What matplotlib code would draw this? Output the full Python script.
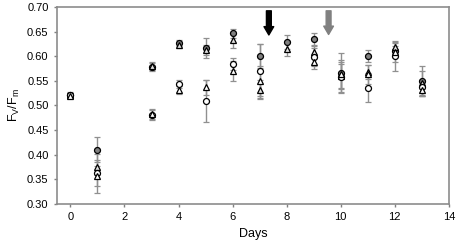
import numpy as np
import matplotlib.pyplot as plt

plt.rcParams['font.family'] = ['Liberation Sans', 'DejaVu Sans']

days = [0, 1, 3, 4, 5, 6, 7, 8, 9, 10, 11, 12, 13]

# gray filled circles
fv_a = [0.521, 0.410, 0.578, 0.626, 0.617, 0.646, 0.600, 0.629, 0.634, 0.566, 0.600, 0.610, 0.550]
err_a = [0.005, 0.025, 0.008, 0.006, 0.020, 0.010, 0.025, 0.014, 0.012, 0.040, 0.012, 0.010, 0.030]
# light filled triangles
fv_b = [0.521, 0.375, 0.580, 0.623, 0.612, 0.632, 0.532, 0.615, 0.608, 0.560, 0.568, 0.619, 0.545]
err_b = [0.005, 0.015, 0.008, 0.006, 0.010, 0.015, 0.020, 0.015, 0.012, 0.025, 0.015, 0.008, 0.025]
# open circles
fv_c = [0.522, 0.362, 0.480, 0.544, 0.509, 0.584, 0.570, np.nan, 0.598, 0.558, 0.536, 0.600, 0.537]
err_c = [0.005, 0.040, 0.010, 0.008, 0.042, 0.012, 0.055, np.nan, 0.018, 0.030, 0.030, 0.030, 0.015]
# open triangles
fv_d = [0.520, 0.357, 0.483, 0.531, 0.537, 0.570, 0.549, np.nan, 0.588, 0.563, 0.563, 0.609, 0.531]
err_d = [0.005, 0.020, 0.010, 0.008, 0.015, 0.020, 0.030, np.nan, 0.015, 0.030, 0.020, 0.020, 0.012]

fig = plt.figure(figsize=(4.59, 2.46), dpi=100)
ax = fig.add_axes([0.124, 0.171, 0.854, 0.801])

series = [
    (fv_a, err_a, 'o', '#808080'),
    (fv_b, err_b, '^', '#e0e0e0'),
    (fv_c, err_c, 'o', 'white'),
    (fv_d, err_d, '^', 'white'),
]
for vals, errs, mk, fc in series:
    ax.errorbar(days, vals, yerr=errs, fmt=mk, ms=4.3, mfc=fc, mec='black', mew=0.9,
                ecolor='#909090', elinewidth=1, capsize=2.5, capthick=1, zorder=3)

# arrows marking events
ax.annotate('', xy=(7.34, 0.643), xytext=(7.34, 0.692),
            arrowprops=dict(facecolor='black', edgecolor='black', width=3.5, headwidth=7, headlength=6))
ax.annotate('', xy=(9.55, 0.644), xytext=(9.55, 0.692),
            arrowprops=dict(facecolor='#808080', edgecolor='#808080', width=3.5, headwidth=7, headlength=6))

ax.set_xlim(-0.5, 14)
ax.set_ylim(0.30, 0.70)
ax.set_xticks(range(0, 15, 2))
ax.set_yticks(np.arange(0.30, 0.701, 0.05))
ax.set_yticklabels([f'{v:.2f}' for v in np.arange(0.30, 0.701, 0.05)])
ax.tick_params(axis='both', labelsize=8, length=2.5, color='#808080', width=1)
for s in ax.spines.values():
    s.set_color('#8c8c8c')
    s.set_linewidth(1.2)

ax.set_xlabel('Days', fontsize=9)
ax.set_ylabel('F$_\\mathregular{V}$/F$_\\mathregular{m}$', fontsize=9)

plt.savefig('out.png', dpi=100)
